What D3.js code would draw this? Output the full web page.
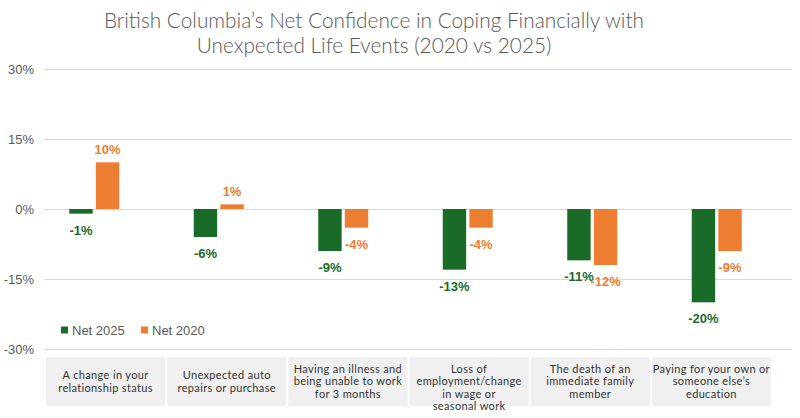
<!DOCTYPE html>
<html>
<head>
<meta charset="utf-8">
<script src="https://cdn.jsdelivr.net/npm/d3@7"></script>
<style>
    body { margin: 0; background: #fff; }
    svg { display: block; }
</style>
</head>
<body>
<div id="chart"></div>
<script>
// Chart data
const categories = [
    'A change in your relationship status',
    'Unexpected auto repairs or purchase',
    'Having an illness and being unable to work for 3 months',
    'Loss of employment/change in wage or seasonal work',
    'The death of an immediate family member',
    "Paying for your own or someone else's education"
];
// wrapped lines for the category table
const categoryLines = [
    ['A change in your', 'relationship status'],
    ['Unexpected auto', 'repairs or purchase'],
    ['Having an illness and', 'being unable to work', 'for 3 months'],
    ['Loss of', 'employment/change', 'in wage or', 'seasonal work'],
    ['The death of an', 'immediate family', 'member'],
    ['Paying for your own or', 'someone else\u2019s', 'education']
];
const net2025 = [-1, -6, -9, -13, -11, -20];
const net2020 = [10, 1, -4, -4, -12, -9];
const seriesNames = ['Net 2025', 'Net 2020'];
const yTicks = [-30, -15, 0, 15, 30];

const width = 800, height = 418;
const green = '#1b6b28', orange = '#ed7d31';
const font = 'Lato, "Liberation Sans", Arial, sans-serif';

const svg = d3.select('#chart')
    .append('svg')
    .attr('width', width)
    .attr('height', height);

// Title
svg.append('text')
    .attr('x', 374)
    .attr('text-anchor', 'middle')
    .attr('fill', '#595959')
    .style('font-family', font)
    .style('font-weight', 300)
    .style('font-size', '20.8px')
    .selectAll('tspan')
    .data(["British Columbia\u2019s Net Confidence in Coping Financially with", 'Unexpected Life Events (2020 vs 2025)'])
    .enter()
    .append('tspan')
    .attr('x', 374)
    .attr('y', (d, i) => 28 + i * 25)
    .text(d => d);

// Scales
const y = d3.scaleLinear().domain([-30, 30]).range([349, 69]);
const x = d3.scaleBand().domain(categories).range([32, 779]);
const x1 = d3.scaleBand().domain(seriesNames).range([x.bandwidth() / 2 - 25, x.bandwidth() / 2 + 25]).paddingInner(0.12);

// Gridlines + y axis labels
const yAxis = d3.axisLeft(y)
    .tickValues(yTicks)
    .tickSize(-(792 - 44))
    .tickFormat(d => d + '%');
const gy = svg.append('g')
    .attr('transform', 'translate(44,0)')
    .call(yAxis);
gy.select('.domain').remove();
gy.selectAll('.tick line').attr('stroke', '#d9d9d9').attr('stroke-width', 1);
gy.selectAll('.tick text')
    .attr('x', -10)
    .attr('fill', '#595959')
    .style('font-family', '"Liberation Sans", Arial, sans-serif')
    .style('font-size', '13px');

// Bars
const rows = categories.map((c, i) => ({ cat: c, values: [
    { key: 'Net 2025', v: net2025[i], color: green },
    { key: 'Net 2020', v: net2020[i], color: orange }
]}));

const groups = svg.selectAll('.group')
    .data(rows)
    .enter()
    .append('g')
    .attr('class', 'group')
    .attr('transform', d => `translate(${x(d.cat)},0)`);

groups.selectAll('rect')
    .data(d => d.values)
    .enter()
    .append('rect')
    .attr('x', d => x1(d.key))
    .attr('width', x1.bandwidth())
    .attr('y', d => y(Math.max(0, d.v)))
    .attr('height', d => Math.abs(y(d.v) - y(0)))
    .attr('fill', d => d.color);

groups.selectAll('.val')
    .data(d => d.values)
    .enter()
    .append('text')
    .attr('class', 'val')
    .attr('x', d => x1(d.key) + x1.bandwidth() / 2)
    .attr('y', d => d.v >= 0 ? y(d.v) - 8 : y(d.v) + 21)
    .attr('text-anchor', 'middle')
    .attr('fill', d => d.color)
    .style('font-family', '"Liberation Sans", Arial, sans-serif')
    .style('font-weight', 'bold')
    .style('font-size', '13px')
    .text(d => d.v + '%');

// Legend
const legend = svg.append('g').attr('transform', 'translate(61,330)');
const legendItems = legend.selectAll('g')
    .data([{ name: seriesNames[0], color: green }, { name: seriesNames[1], color: orange }])
    .enter()
    .append('g')
    .attr('transform', (d, i) => `translate(${i * 80},0)`);
legendItems.append('rect')
    .attr('x', 0).attr('y', -3.5)
    .attr('width', 7).attr('height', 7)
    .attr('fill', d => d.color);
legendItems.append('text')
    .attr('x', 11)
    .attr('dy', '0.35em')
    .attr('fill', '#595959')
    .style('font-family', '"Liberation Sans", Arial, sans-serif')
    .style('font-size', '13px')
    .text(d => d.name);

// Category table
const tx = d3.scaleBand().domain(categories).range([46, 773]);
const cells = svg.append('g').selectAll('g')
    .data(categories)
    .enter()
    .append('g')
    .attr('transform', d => `translate(${tx(d)},357)`);
cells.append('rect')
    .attr('width', tx.bandwidth() - 2)
    .attr('height', 49)
    .attr('fill', '#f0f0f0');
cells.append('text')
    .attr('text-anchor', 'middle')
    .attr('fill', '#333')
    .style('font-family', font)
    .style('font-size', '11px')
    .style('letter-spacing', '0.35px')
    .each(function(d, i) {
        const lines = categoryLines[i];
        const start = 24.5 - (lines.length - 1) * 12.3 / 2 + (lines.length === 4 ? 6 : 0);
        d3.select(this).selectAll('tspan')
            .data(lines)
            .enter()
            .append('tspan')
            .attr('x', (tx.bandwidth() - 2) / 2)
            .attr('y', (l, j) => start + j * 12.3)
            .attr('dy', '0.35em')
            .text(l => l);
    });
</script>
</body>
</html>
